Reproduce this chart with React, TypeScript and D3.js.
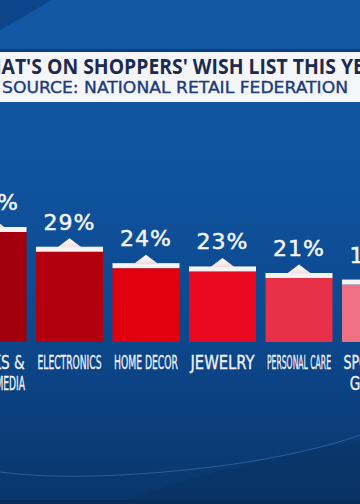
import { useEffect, useRef } from "react";
import * as d3 from "d3";

// chart data
const categories = [
  ["BOOKS &", "OTHER MEDIA"],
  ["ELECTRONICS"],
  ["HOME DECOR"],
  ["JEWELRY"],
  ["PERSONAL CARE"],
  ["SPORTING", "GOODS"],
];
const values = [35, 29, 24, 23, 21, 19];
const barColors = ["#a2000c", "#b3000f", "#e2000e", "#e8081f", "#e83048", "#f07184"];
const title = "WHAT'S ON SHOPPERS' WISH LIST THIS YEAR";
const subtitle = "SOURCE: NATIONAL RETAIL FEDERATION";

const W = 360;
const H = 504;
const baseline = 342;

const App = () => {
  const ref = useRef<SVGSVGElement>(null);

  useEffect(() => {
    const svg = d3.select(ref.current);
    svg.selectAll("*").remove();

    const defs = svg.append("defs");
    const bg = defs.append("linearGradient").attr("id", "bg").attr("x1", 0).attr("y1", 0).attr("x2", 0).attr("y2", 1);
    bg.append("stop").attr("offset", "0").attr("stop-color", "#1258a3");
    bg.append("stop").attr("offset", "0.35").attr("stop-color", "#0f539e");
    bg.append("stop").attr("offset", "0.7").attr("stop-color", "#0c468a");
    bg.append("stop").attr("offset", "1").attr("stop-color", "#0a356a");

    const peak = defs.append("linearGradient").attr("id", "peak").attr("x1", 0).attr("y1", 0).attr("x2", 0).attr("y2", 1);
    peak.append("stop").attr("offset", "0").attr("stop-color", "#ffffff");
    peak.append("stop").attr("offset", "1").attr("stop-color", "#f2dede");

    // background
    svg.append("rect").attr("width", W).attr("height", H).attr("fill", "url(#bg)");
    svg.append("path").attr("d", "M0,0 L52,0 L0,30 Z").attr("fill", "#0b4184").attr("opacity", 0.8);
    svg.append("path")
      .attr("d", "M120,504 C200,470 290,455 360,440 L360,504 Z")
      .attr("fill", "#08305f").attr("opacity", 0.45);
    svg.append("path")
      .attr("d", "M0,472 C60,480 140,476 220,466 C280,458 330,446 360,435")
      .attr("fill", "none").attr("stroke", "#6d9ad0").attr("stroke-opacity", 0.35).attr("stroke-width", 1);
    svg.append("rect").attr("x", 0).attr("y", 500).attr("width", W).attr("height", 4).attr("fill", "#082c58");

    // title banner
    svg.append("rect").attr("x", 0).attr("y", 49).attr("width", W).attr("height", 3).attr("fill", "#0b3f80");
    svg.append("rect").attr("x", 0).attr("y", 52).attr("width", W).attr("height", 50).attr("fill", "#f5f6f9");
    svg.append("text")
      .attr("x", -32).attr("y", 74)
      .attr("textLength", 422).attr("lengthAdjust", "spacingAndGlyphs")
      .attr("font-family", "'Open Sans', sans-serif").attr("font-weight", 700)
      .attr("font-size", 22).attr("fill", "#1b2a4e")
      .text(title);
    svg.append("text")
      .attr("x", 2).attr("y", 93)
      .attr("textLength", 346).attr("lengthAdjust", "spacingAndGlyphs")
      .attr("font-family", "'DejaVu Sans', sans-serif")
      .attr("font-size", 15).attr("fill", "#1d3c7c")
      .attr("stroke", "#1d3c7c").attr("stroke-width", 0.35)
      .text(subtitle);

    // scales
    const x = d3.scaleBand<number>()
      .domain(d3.range(values.length))
      .range([-40.5, 409])
      .paddingInner(0.124)
      .paddingOuter(0);
    const y = d3.scaleLinear().domain([0, 35]).range([baseline, 227]);
    const bw = x.bandwidth();

    const g = svg.append("g");
    const bars = g.selectAll("g.bar").data(values).join("g").attr("class", "bar");

    // red bar
    bars.append("rect")
      .attr("x", (_d, i) => x(i)!)
      .attr("y", (d) => y(d) + 5)
      .attr("width", bw)
      .attr("height", (d) => baseline - y(d) - 5)
      .attr("fill", (_d, i) => barColors[i]);
    // white cap
    bars.append("rect")
      .attr("x", (_d, i) => x(i)!)
      .attr("y", (d) => y(d))
      .attr("width", bw)
      .attr("height", 5)
      .attr("fill", "#f7f3f3");
    // little peak under the value
    bars.append("path")
      .attr("d", (d, i) => {
        const cx = x(i)! + bw / 2;
        const t = y(d);
        return `M${cx - 12},${t + 0.5} L${cx},${t - 8.5} L${cx + 12},${t + 0.5} Z`;
      })
      .attr("fill", "url(#peak)");
    // value labels
    bars.append("text")
      .attr("x", (_d, i) => x(i)! + bw / 2)
      .attr("y", (d) => y(d) - 17)
      .attr("text-anchor", "middle")
      .attr("font-family", "'DejaVu Sans', sans-serif")
      .attr("font-size", 22)
      .attr("letter-spacing", 1)
      .attr("fill", "#f4f4f8")
      .attr("stroke", "#f4f4f8").attr("stroke-width", 0.5)
      .text((d) => `${d}%`);

    // category labels, squeezed to fit the bar width
    categories.forEach((lines, i) => {
      lines.forEach((line, j) => {
        const t = g.append("text")
          .attr("x", x(i)! + bw / 2)
          .attr("y", 369 + j * 21)
          .attr("text-anchor", "middle")
          .attr("font-family", "'Liberation Sans Narrow', 'DejaVu Sans Condensed', sans-serif")
          .attr("font-size", 19)
          .attr("fill", "#f1f2f7")
          .attr("stroke", "#f1f2f7").attr("stroke-width", 0.3)
          .text(line);
        const natural = (t.node() as SVGTextElement).getComputedTextLength();
        const len = lines.length === 1 ? bw - 3 : Math.min(bw - 3, natural * 0.8);
        t.attr("textLength", len).attr("lengthAdjust", "spacingAndGlyphs");
      });
    });
  }, []);

  return (
    <svg ref={ref} width={W} height={H} viewBox={`0 0 ${W} ${H}`}
      style={{ position: "fixed", left: 0, top: 0, display: "block" }} />
  );
};

export default App;
